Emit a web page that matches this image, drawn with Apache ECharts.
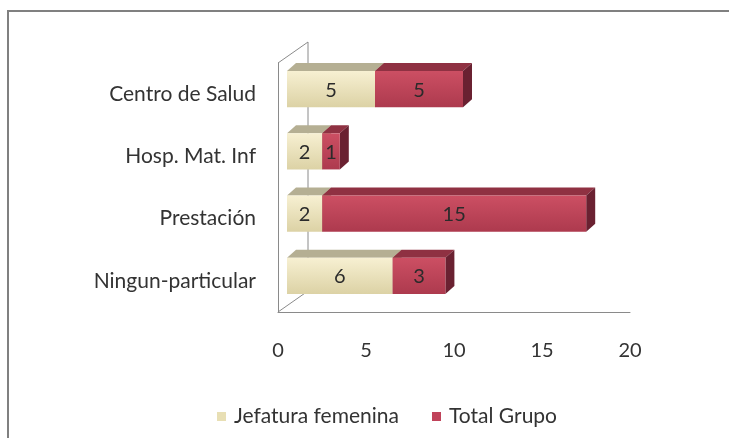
<!DOCTYPE html>
<html lang="es">
<head>
    <meta charset="UTF-8">
    <title>Jefatura femenina / Total Grupo</title>
    <script src="https://cdn.jsdelivr.net/npm/echarts@6/dist/echarts.min.js"></script>
    <style>
        html, body { margin: 0; padding: 0; background: #fff; }
    </style>
</head>
<body>
<div id="main" style="width:729px;height:438px;"></div>
<script type="text/javascript">
    // datos
    var categorias = ['Centro de Salud', 'Hosp. Mat. Inf', 'Prestación', 'Ningun-particular'];
    var jefatura = [5, 2, 2, 6];
    var totalGrupo = [5, 1, 15, 3];
    var ticksX = [0, 5, 10, 15, 20];

    var FONT = 'Lato';
    var SHIFT = [9, -5];   // barras un poco hacia el fondo
    var DEPTH = [9, -8];   // profundidad de la caja 3D
    var G = { left: 278, right: 99, top: 63, bottom: 126 };

    var colores = {
        jef: { front: ['#f7f0d2', '#dcd2a5'], top: '#b5af93', side: '#a59c7c' },
        tot: { front: ['#cc4f63', '#ad3a4e'], top: '#8f3142', side: '#6a2131' }
    };

    function render3d(col) {
        return function (params, api) {
            var cat = api.value(0);
            var p0 = api.coord([api.value(1), cat]);
            var p1 = api.coord([api.value(2), cat]);
            var h = api.size([0, 1])[1] * 0.58;
            var x0 = p0[0] + SHIFT[0], x1 = p1[0] + SHIFT[0];
            var y0 = p0[1] + SHIFT[1] - h / 2, y1 = y0 + h;
            var dx = DEPTH[0], dy = DEPTH[1];
            return {
                type: 'group',
                children: [
                    {
                        type: 'polygon',
                        shape: { points: [[x0, y0], [x0 + dx, y0 + dy], [x1 + dx, y0 + dy], [x1, y0]] },
                        style: { fill: col.top }
                    },
                    {
                        type: 'polygon',
                        shape: { points: [[x1, y0], [x1 + dx, y0 + dy], [x1 + dx, y1 + dy], [x1, y1]] },
                        style: { fill: col.side }
                    },
                    {
                        type: 'rect',
                        shape: { x: x0, y: y0, width: x1 - x0, height: h },
                        style: {
                            fill: new echarts.graphic.LinearGradient(0, 0, 0, 1, [
                                { offset: 0, color: col.front[0] },
                                { offset: 1, color: col.front[1] }
                            ])
                        }
                    },
                    {
                        type: 'text',
                        x: (x0 + x1) / 2,
                        y: (y0 + y1) / 2 + 1,
                        style: {
                            text: String(api.value(3)),
                            fill: '#2b2b2b',
                            font: '20px ' + FONT,
                            align: 'center',
                            verticalAlign: 'middle'
                        }
                    }
                ]
            };
        };
    }

    var datosJef = categorias.map(function (c, i) { return [i, 0, jefatura[i], jefatura[i]]; });
    var datosTot = categorias.map(function (c, i) {
        return [i, jefatura[i], jefatura[i] + totalGrupo[i], totalGrupo[i]];
    });

    var myChart = echarts.init(document.getElementById('main'));
    var xL = G.left, yT = G.top, yB = 438 - G.bottom;
    var wd = [30, -21];
    var gris = { stroke: '#8a8a8a', lineWidth: 1, fill: 'none' };

    var option = {
        animation: false,
        textStyle: { fontFamily: FONT },
        grid: G,
        legend: {
            left: 212, top: 401,
            itemWidth: 9, itemHeight: 9, itemGap: 33,
            icon: 'rect',
            textStyle: { fontSize: 21, color: '#333', fontFamily: FONT, padding: [0, 0, 0, 3] },
            data: [
                { name: 'Jefatura femenina', itemStyle: { color: '#e8dfb4' } },
                { name: 'Total Grupo', itemStyle: { color: '#c0435a' } }
            ]
        },
        graphic: [
            { type: 'rect', shape: { x: 8, y: 11, width: 900, height: 600 }, style: { stroke: '#808080', lineWidth: 2, fill: 'none' }, z: -1 },
            { type: 'polyline', shape: { points: [[xL, yT], [xL + wd[0], yT + wd[1]], [xL + wd[0], yB + wd[1]], [xL, yB]] }, style: gris, z: 1 }
        ],
        xAxis: {
            type: 'value',
            min: ticksX[0], max: ticksX[ticksX.length - 1], interval: 5,
            axisLine: { show: true, lineStyle: { color: '#8a8a8a', width: 1 } },
            axisTick: { show: false },
            splitLine: { show: false },
            axisLabel: { fontSize: 20, color: '#333', margin: 29, fontFamily: FONT }
        },
        yAxis: {
            type: 'category',
            inverse: true,
            data: categorias,
            axisLine: { show: true, lineStyle: { color: '#8a8a8a', width: 1 } },
            axisTick: { show: false },
            axisLabel: { fontSize: 21, color: '#333', margin: 22, fontFamily: FONT, padding: [4, 0, 0, 0] }
        },
        series: [
            {
                name: 'Jefatura femenina', type: 'custom',
                renderItem: render3d(colores.jef),
                encode: { x: [1, 2], y: 0 },
                itemStyle: { color: '#e8dfb4' },
                data: datosJef, z: 3
            },
            {
                name: 'Total Grupo', type: 'custom',
                renderItem: render3d(colores.tot),
                encode: { x: [1, 2], y: 0 },
                itemStyle: { color: '#c0435a' },
                data: datosTot, z: 4
            }
        ]
    };
    myChart.setOption(option);
</script>
</body>
</html>
